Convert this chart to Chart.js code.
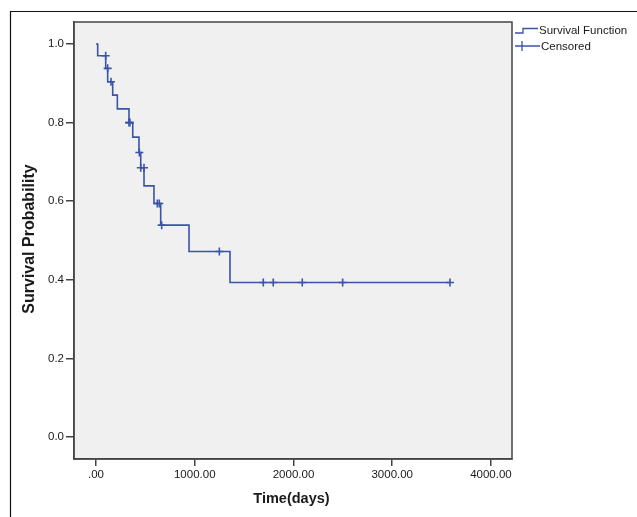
<!DOCTYPE html>
<html>
<head>
<meta charset="utf-8">
<script src="https://cdn.jsdelivr.net/npm/chart.js@4.4.0/dist/chart.umd.min.js"></script>
<style>
  html, body { margin: 0; padding: 0; background: #fff; }
  #wrap { width: 637px; height: 517px; }
</style>
</head>
<body>
<div id="wrap"><canvas id="grafica"></canvas></div>
<script>
// Kaplan-Meier: tiempos de evento y supervivencia
const tiemposEvento = [0, 17, 98, 118, 169, 216, 334, 372, 435, 453, 486, 587, 655, 942, 1357, 3585];
const supervivencia = [1.0, 0.970, 0.938, 0.904, 0.870, 0.835, 0.800, 0.763, 0.724, 0.685, 0.639, 0.594, 0.539, 0.472, 0.393, 0.393];

// Censurados
const tiemposCensura = [98, 118, 152, 334, 343, 439, 453, 486, 621, 641, 665, 1249, 1694, 1795, 2089, 2498, 3585];
const valoresCensura = [0.970, 0.938, 0.904, 0.800, 0.800, 0.724, 0.685, 0.685, 0.594, 0.594, 0.539, 0.472, 0.393, 0.393, 0.393, 0.393, 0.393];

// Ejes
const ticksX = [0, 1000, 2000, 3000, 4000];
const etiquetasX = [".00", "1000.00", "2000.00", "3000.00", "4000.00"];
const ticksY = [0, 0.2, 0.4, 0.6, 0.8, 1.0];
const etiquetasY = ["0.0", "0.2", "0.4", "0.6", "0.8", "1.0"];

const AZUL = "#3a54a8";
const EJE = "#444";
const TEXTO = "#1a1a1a";
const FUENTE = "'Liberation Sans', Arial, sans-serif";

const puntosCurva = tiemposEvento.map((t, i) => ({ x: t, y: supervivencia[i] }));
const puntosCensura = tiemposCensura.map((t, i) => ({ x: t, y: valoresCensura[i] }));

// Marco, fondo gris, titulos y leyenda
const decoracion = {
  id: 'decoracion',
  beforeDraw(chart) {
    const ctx = chart.ctx;
    const a = chart.chartArea;
    ctx.save();
    ctx.fillStyle = "#fff";
    ctx.fillRect(0, 0, chart.width, chart.height);
    ctx.strokeStyle = "#111";
    ctx.lineWidth = 1.2;
    ctx.beginPath();
    ctx.moveTo(637, 11.5);
    ctx.lineTo(10.5, 11.5);
    ctx.lineTo(10.5, 517);
    ctx.stroke();
    ctx.fillStyle = "#f0f0f0";
    ctx.fillRect(a.left, a.top, a.right - a.left, a.bottom - a.top);
    ctx.restore();
  },
  afterDraw(chart) {
    const ctx = chart.ctx;
    const a = chart.chartArea;
    ctx.save();
    ctx.strokeStyle = EJE;
    ctx.lineWidth = 1.5;
    ctx.strokeRect(a.left, a.top, a.right - a.left, a.bottom - a.top);

    ctx.fillStyle = TEXTO;
    ctx.textAlign = "center";
    ctx.textBaseline = "middle";
    ctx.font = "bold 14.5px " + FUENTE;
    ctx.fillText("Time(days)", 291.5, 499);
    ctx.translate(30, 239);
    ctx.rotate(-Math.PI / 2);
    ctx.font = "bold 16px " + FUENTE;
    ctx.fillText("Survival Probability", 0, 0);
    ctx.restore();

    // leyenda
    ctx.save();
    ctx.strokeStyle = AZUL;
    ctx.lineWidth = 1.3;
    ctx.beginPath();
    ctx.moveTo(515, 33);
    ctx.lineTo(523, 33);
    ctx.lineTo(523, 28.5);
    ctx.lineTo(538, 28.5);
    ctx.stroke();
    ctx.beginPath();
    ctx.moveTo(515, 46);
    ctx.lineTo(540, 46);
    ctx.moveTo(522, 41);
    ctx.lineTo(522, 51);
    ctx.stroke();
    ctx.fillStyle = TEXTO;
    ctx.font = "11.5px " + FUENTE;
    ctx.textAlign = "left";
    ctx.textBaseline = "middle";
    ctx.fillText("Survival Function", 539, 31);
    ctx.fillText("Censored", 541, 47);
    ctx.restore();
  }
};

const ctx = document.getElementById('grafica').getContext('2d');

new Chart(ctx, {
  type: 'scatter',
  data: {
    datasets: [
      {
        label: 'Censored',
        data: puntosCensura,
        pointStyle: 'cross',
        pointRadius: 4,
        borderColor: AZUL,
        backgroundColor: AZUL,
        pointBorderWidth: 1.6,
        showLine: false,
        order: 0
      },
      {
        label: 'Survival Function',
        data: puntosCurva,
        showLine: true,
        stepped: 'before',
        borderColor: AZUL,
        borderWidth: 1.6,
        pointRadius: 0,
        fill: false,
        order: 1
      }
    ]
  },
  options: {
    responsive: true,
    maintainAspectRatio: false,
    animation: false,
    layout: { padding: { left: 0, top: 22, right: 125, bottom: 0 } },
    plugins: {
      legend: { display: false },
      tooltip: { enabled: false }
    },
    scales: {
      x: {
        type: 'linear',
        min: -223,
        max: 4213,
        afterBuildTicks: scale => { scale.ticks = ticksX.map(v => ({ value: v })); },
        afterFit: scale => { scale.height = 58; },
        border: { color: EJE, width: 1.5 },
        grid: { drawOnChartArea: false, drawTicks: true, tickLength: 7, color: EJE, lineWidth: 1.5 },
        ticks: {
          color: TEXTO,
          padding: 2,
          maxRotation: 0,
          font: { family: FUENTE, size: 11.5 },
          callback: (valor) => etiquetasX[ticksX.indexOf(valor)]
        }
      },
      y: {
        type: 'linear',
        min: -0.056,
        max: 1.056,
        afterBuildTicks: scale => { scale.ticks = ticksY.map(v => ({ value: v })); },
        afterFit: scale => { scale.width = 74; },
        border: { color: EJE, width: 1.5 },
        grid: { drawOnChartArea: false, drawTicks: true, tickLength: 8, color: EJE, lineWidth: 1.5 },
        ticks: {
          color: TEXTO,
          padding: 2,
          font: { family: FUENTE, size: 11.5 },
          callback: (valor) => etiquetasY[ticksY.findIndex(v => Math.abs(v - valor) < 1e-9)]
        }
      }
    }
  },
  plugins: [decoracion]
});
</script>
</body>
</html>
